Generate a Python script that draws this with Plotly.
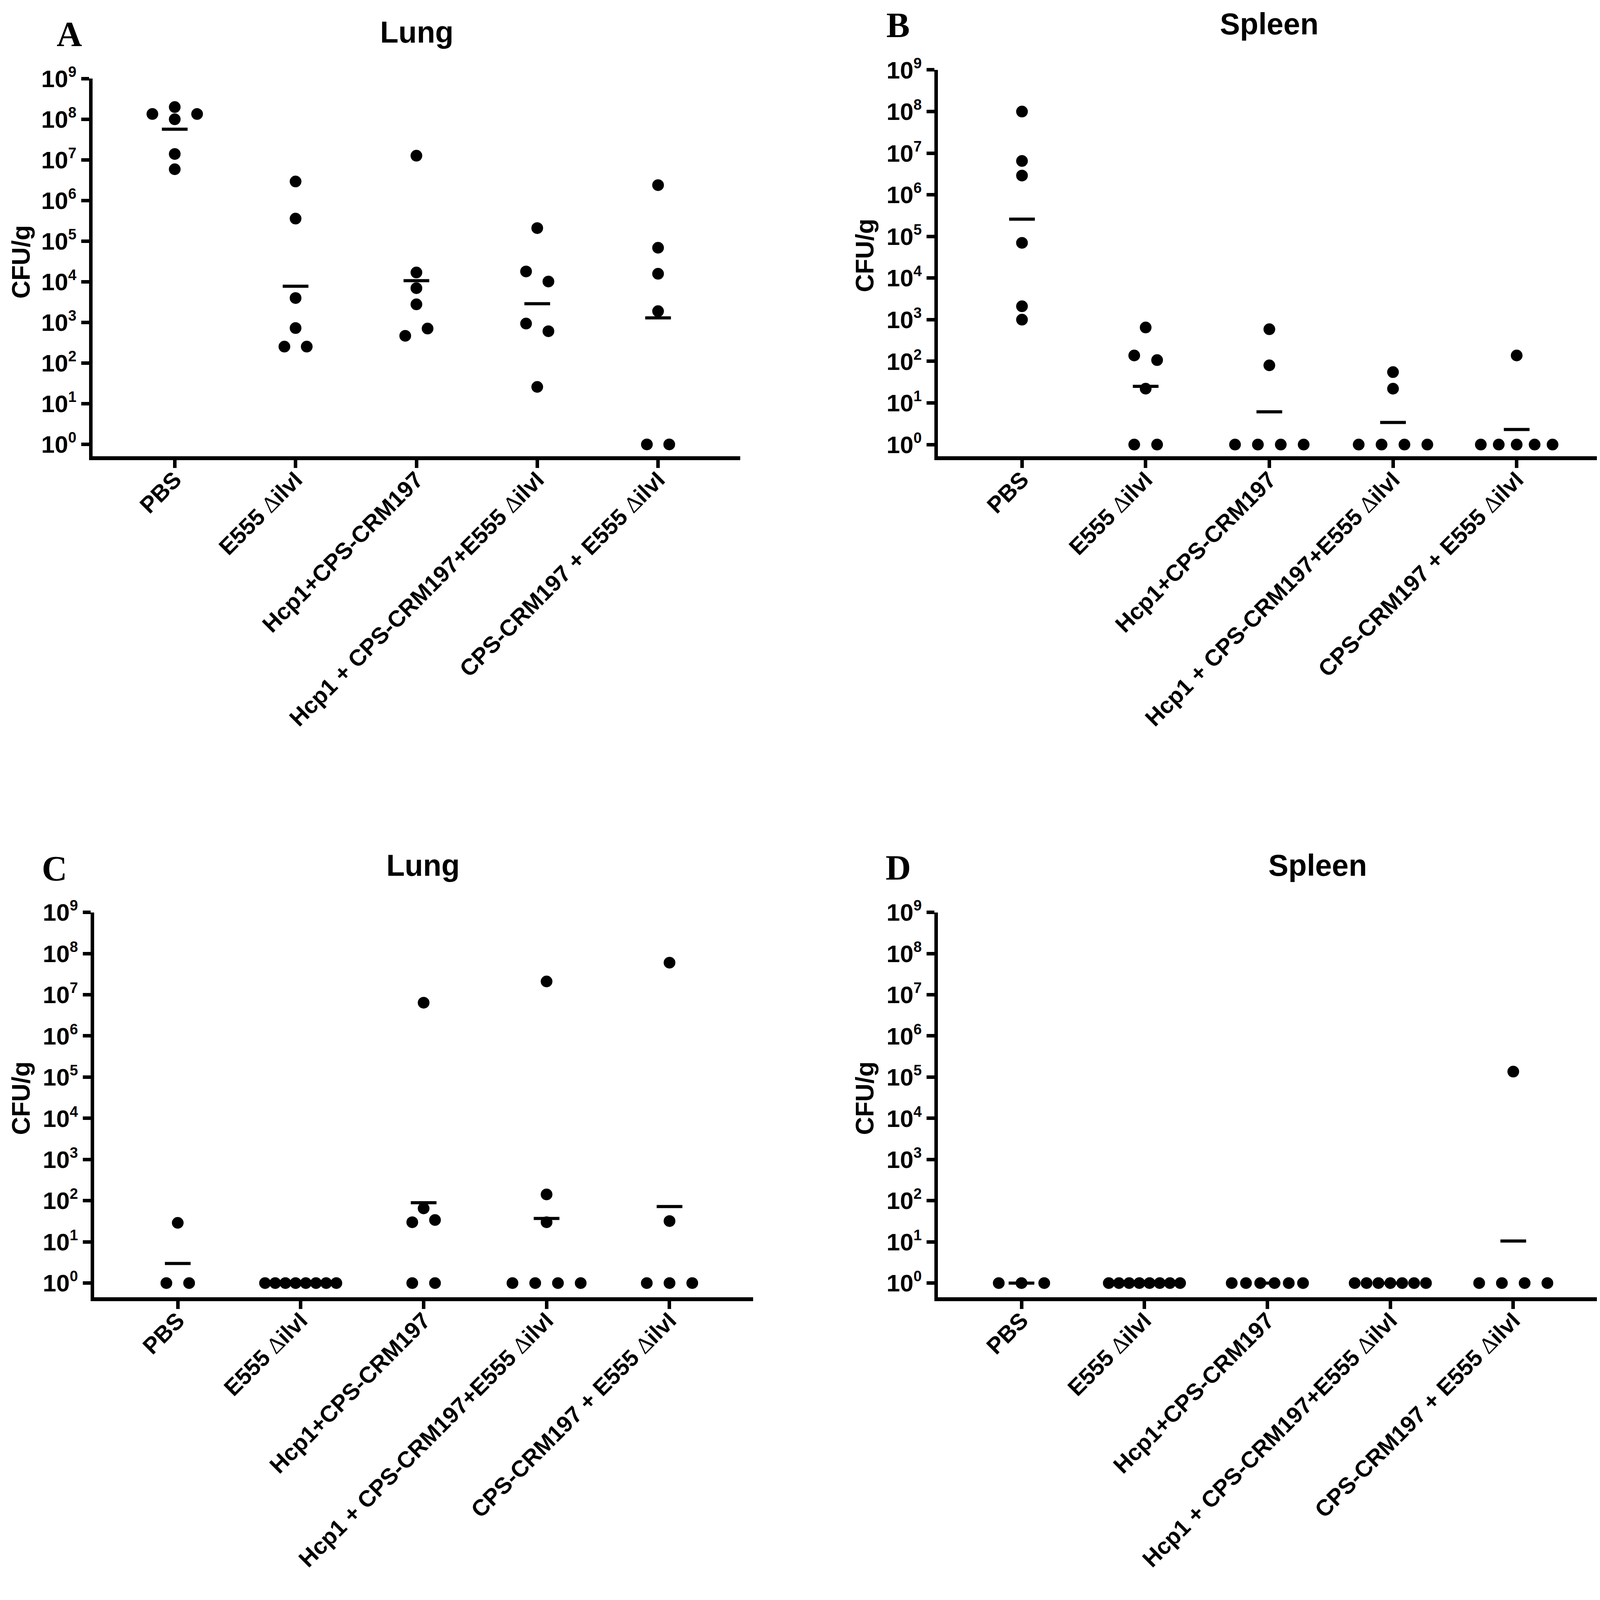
import math
import plotly.graph_objects as go

# group names (x categories), same in every panel
groups = [
    "PBS",
    "E555 ∆ilvI",
    "Hcp1+CPS-CRM197",
    "Hcp1 + CPS-CRM197+E555 ∆ilvI",
    "CPS-CRM197 + E555 ∆ilvI",
]

# CFU/g per animal (listed in column order)
lung_a = [
    [1.35e8, 2e8, 1.35e8, 1e8, 1.4e7, 5.9e6],
    [2.95e6, 3.6e5, 4e3, 730, 255, 255],
    [1.27e7, 1.7e4, 7e3, 2.8e3, 470, 710],
    [2.1e5, 1.8e4, 1.02e4, 940, 610, 26],
    [2.4e6, 6.9e4, 1.58e4, 1.9e3, 1, 1],
]
spleen_b = [
    [1e8, 6.5e6, 2.9e6, 7e4, 2.1e3, 1e3],
    [650, 138, 107, 22, 1, 1],
    [590, 80, 1, 1, 1, 1],
    [55, 22, 1, 1, 1, 1],
    [138, 1, 1, 1, 1, 1],
]
lung_c = [
    [29, 1, 1],
    [1, 1, 1, 1, 1, 1, 1, 1],
    [6.4e6, 65, 30, 34, 1, 1],
    [2.1e7, 142, 30, 1, 1, 1, 1],
    [6e7, 32, 1, 1, 1],
]
spleen_d = [
    [1, 1, 1],
    [1, 1, 1, 1, 1, 1, 1, 1],
    [1, 1, 1, 1, 1, 1],
    [1, 1, 1, 1, 1, 1, 1],
    [1.36e5, 1, 1, 1, 1],
]

# geometric mean bars as drawn
mean_a = [5.7e7, 7.8e3, 1.07e4, 2.9e3, 1.3e3]
mean_b = [2.6e5, 25, 6.1, 3.4, 2.3]
mean_c = [3.0, 1, 89, 37, 72]
mean_d = [1, 1, 1, 1, 10.5]

y_tickvals = [1, 10, 100, 1e3, 1e4, 1e5, 1e6, 1e7, 1e8, 1e9]
y_exponents = ["0", "1", "2", "3", "4", "5", "6", "7", "8", "9"]

# positions below are measured on the 4110x4200 original and used as fractions;
# the figure is drawn a bit shorter so the whole page fits the visible window
W, H = 4110, 4200
FIG_H = 4080
SANS = "Liberation Sans, Arial, sans-serif"
SERIF = "Liberation Serif, Times New Roman, serif"
DELTA = '<span style="font-family:Liberation Serif;font-weight:normal">∆</span>'

y_ticktext = ['10<sup><span style="font-size:38px">%s</span></sup>' % e for e in y_exponents]


def swarm(values, step=0.185, max_half=0.29, gap=0.265):
    """spread points that sit on the same row, like a column scatter"""
    logs = [math.log10(v) for v in values]
    order = sorted(range(len(values)), key=lambda k: -logs[k])
    rows = []
    for k in order:
        if rows and logs[rows[-1][0]] - logs[k] < gap:
            rows[-1].append(k)
        else:
            rows.append([k])
    offs = [0.0] * len(values)
    for row in rows:
        row.sort()
        n = len(row)
        s = step if n < 2 else min(step, 2 * max_half / (n - 1))
        for j, k in enumerate(row):
            offs[k] = (j - (n - 1) / 2) * s
    return offs


def px(x, y):
    return x / W, 1 - y / H


panels = [
    dict(data=lung_a, means=mean_a, x0=229, x1=1887, ytop=199, ybot=1194, ymin=-0.29,
         title="Lung", tpos=(1059, 76), letter="A", lpos=(169, 82), ypos=(46, 682)),
    dict(data=spleen_b, means=mean_b, x0=2393, x1=4090, ytop=176, ybot=1194, ymin=-0.28,
         title="Spleen", tpos=(3241, 55), letter="B", lpos=(2291, 58), ypos=(2206, 665)),
    dict(data=lung_c, means=mean_c, x0=233, x1=1920, ytop=2396, ybot=3410, ymin=-0.34,
         title="Lung", tpos=(1075, 2272), letter="C", lpos=(131, 2281), ypos=(46, 2886)),
    dict(data=spleen_d, means=mean_d, x0=2393, x1=4080, ytop=2396, ybot=3410, ymin=-0.34,
         title="Spleen", tpos=(3365, 2272), letter="D", lpos=(2291, 2279), ypos=(2206, 2886)),
]

xlabels = [g.replace("∆", DELTA) for g in groups]

fig = go.Figure()
annotations = []
layout = {}

for i, p in enumerate(panels):
    n = "" if i == 0 else str(i + 1)
    xs, ys = [], []
    for gi, vals in enumerate(p["data"]):
        for off, v in zip(swarm(vals), vals):
            xs.append(gi + off)
            ys.append(v)
    fig.add_trace(go.Scatter(
        x=list(range(len(groups))), y=p["means"], mode="markers",
        marker=dict(symbol="line-ew", size=47, color="black",
                    line=dict(color="black", width=8)),
        xaxis="x" + n, yaxis="y" + n, showlegend=False, cliponaxis=False))
    fig.add_trace(go.Scatter(
        x=xs, y=ys, mode="markers",
        marker=dict(symbol="circle", size=30, color="black", line=dict(width=0)),
        xaxis="x" + n, yaxis="y" + n, showlegend=False, cliponaxis=False))

    layout["xaxis" + n] = dict(
        domain=[p["x0"] / W, p["x1"] / W], anchor="y" + n, automargin=False,
        range=[-0.68, 4.68], showgrid=False, zeroline=False,
        showline=True, linecolor="black", linewidth=10,
        ticks="outside", ticklen=20, tickwidth=9, tickcolor="black",
        tickvals=list(range(len(groups))), ticktext=xlabels, tickangle=-45,
        tickfont=dict(family=SANS, size=59, color="black", weight="bold"),
        ticklabelstandoff=-28)
    layout["yaxis" + n] = dict(
        domain=[1 - p["ybot"] / H, 1 - p["ytop"] / H], anchor="x" + n, automargin=False,
        type="log", range=[p["ymin"], 9], showgrid=False, zeroline=False,
        showline=True, linecolor="black", linewidth=9,
        ticks="outside", ticklen=20, tickwidth=9, tickcolor="black",
        tickvals=y_tickvals, ticktext=y_ticktext,
        tickfont=dict(family=SANS, size=62, color="black", weight="bold"))

    tx, ty = px(*p["tpos"])
    annotations.append(dict(text=p["title"], x=tx, y=ty, xref="paper", yref="paper",
                            xanchor="center", yanchor="middle", showarrow=False,
                            font=dict(family=SANS, size=77, color="black", weight="bold")))
    lx, ly = px(*p["lpos"])
    annotations.append(dict(text=p["letter"], x=lx, y=ly, xref="paper", yref="paper",
                            xanchor="center", yanchor="middle", showarrow=False,
                            font=dict(family=SERIF, size=90, color="black", weight="bold")))
    yx, yy = px(*p["ypos"])
    annotations.append(dict(text="CFU/g", x=yx, y=yy, xref="paper", yref="paper",
                            xanchor="center", yanchor="middle", showarrow=False,
                            textangle=-90,
                            font=dict(family=SANS, size=64, color="black", weight="bold")))

fig.update_layout(
    width=W, height=FIG_H, margin=dict(l=0, r=0, t=0, b=0, autoexpand=False),
    paper_bgcolor="white", plot_bgcolor="white",
    annotations=annotations, **layout)

fig.write_html("out.html")
